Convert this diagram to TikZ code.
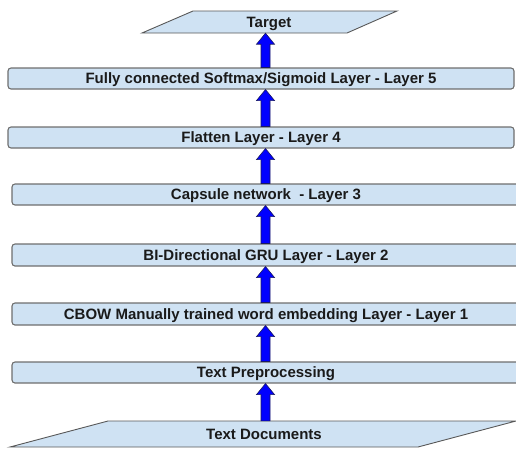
\documentclass[tikz,border=0pt]{standalone}
\usepackage{fontspec}
\setmainfont{Liberation Sans}
\usetikzlibrary{calc}
\definecolor{boxfill}{HTML}{CFE2F3}
\definecolor{boxline}{HTML}{6E6E6E}
\definecolor{txt}{HTML}{1A1A1A}
\definecolor{arrline}{HTML}{1A1A60}
\tikzset{
  layerbox/.style={draw=boxline, fill=boxfill, line width=1.1pt, rounded corners=3pt,
    inner sep=0pt, text height=10.7pt, text depth=0pt, text=txt,
    font=\fontsize{15}{18}\selectfont\bfseries},
  paralabel/.style={inner sep=0pt, text height=10.7pt, text depth=0pt, text=txt,
    font=\fontsize{15}{18}\selectfont\bfseries},
  paraface/.style={draw=boxline!80!black, fill=boxfill, line width=0.9pt, line join=miter},
  barrow/.style={draw=arrline, fill=blue, line width=0.6pt, line join=miter}
}
\newcommand\blockarrow[2]{%
  \path let \p1=(#1.north), \p2=(#2.south), \p3=(ax) in
    [barrow] (\x3-4.5pt,\y1) -- (\x3-4.5pt,\y2-11pt) -- (\x3-9pt,\y2-11pt) -- (\x3,\y2)
      -- (\x3+9pt,\y2-11pt) -- (\x3+4.5pt,\y2-11pt) -- (\x3+4.5pt,\y1) -- cycle;}
\begin{document}
\begin{tikzpicture}[x=1pt,y=-1pt]
\useasboundingbox (0,0) rectangle (516,448);
\clip (0,0) rectangle (516,448);
\coordinate (ax) at (265.5,0);
% parallelograms
\path[paraface] (193,11) -- (397,11) -- (347,33) -- (142,33) -- cycle;
\node[paralabel, minimum height=22pt] (target) at (269,22) {Target};
\path[paraface] (108,421) -- (516,421) -- (418,447) -- (10,447) -- cycle;
\node[paralabel, minimum height=26pt] (docs) at (264,434) {Text Documents};
% layer boxes
\node[layerbox, minimum width=506pt, minimum height=21pt] (l5) at (261,78.5) {Fully connected Softmax/Sigmoid Layer - Layer 5};
\node[layerbox, minimum width=506pt, minimum height=21pt] (l4) at (261,137.5) {Flatten Layer - Layer 4};
\node[layerbox, minimum width=508pt, minimum height=21pt] (l3) at (266,194.5) {Capsule network\ \ - Layer 3};
\node[layerbox, minimum width=508pt, minimum height=22pt] (l2) at (266,255) {BI-Directional GRU Layer - Layer 2};
\node[layerbox, minimum width=508pt, minimum height=22pt] (l1) at (266,314) {CBOW Manually trained word embedding Layer - Layer 1};
\node[layerbox, minimum width=508pt, minimum height=21pt] (prep) at (266,372.5) {Text Preprocessing};
% arrows
\blockarrow{docs}{prep}
\blockarrow{prep}{l1}
\blockarrow{l1}{l2}
\blockarrow{l2}{l3}
\blockarrow{l3}{l4}
\blockarrow{l4}{l5}
\blockarrow{l5}{target}
\end{tikzpicture}
\end{document}
